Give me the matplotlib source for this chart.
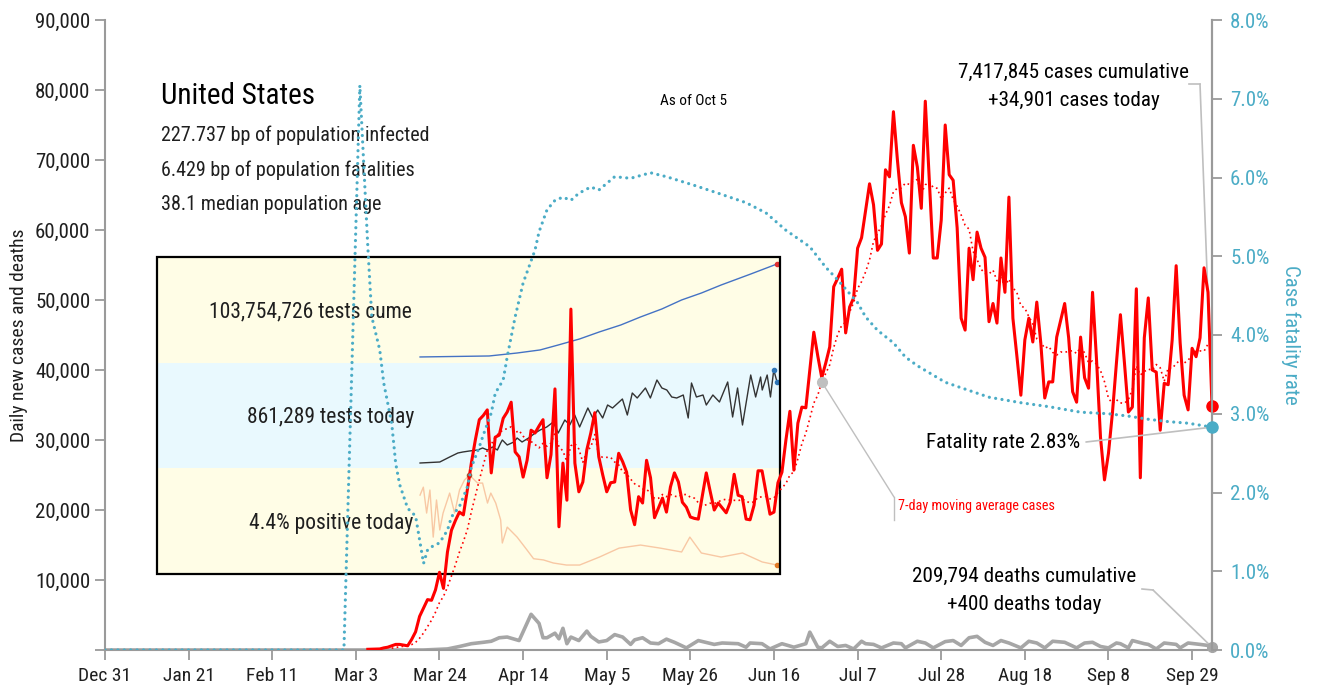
import matplotlib
matplotlib.use("Agg")
import matplotlib.pyplot as plt
import numpy as np
import pandas as pd
from matplotlib.lines import Line2D
from matplotlib.patches import Rectangle
from matplotlib.ticker import FuncFormatter, PercentFormatter

plt.rcParams['font.family'] = ['Roboto Condensed', 'Archivo Narrow', 'PT Sans Narrow',
                               'IBM Plex Sans Condensed', 'DejaVu Sans']

# ---------------- data ----------------
x_ticks_labels = ['Dec 31', 'Jan 21', 'Feb 11', 'Mar 3', 'Mar 24', 'Apr 14', 'May 5',
                  'May 26', 'Jun 16', 'Jul 7', 'Jul 28', 'Aug 18', 'Sep 8', 'Sep 29']
x_tick_days = [0, 21, 42, 63, 84, 105, 126, 147, 168, 189, 210, 231, 252, 273]
last_day = 278

case_first_day = 66
daily_cases = [
    100, 120, 130, 150, 300, 400, 600, 800, 800, 700, 600, 1500, 2600, 4800, 6000,
    7200, 7100, 8600, 11100, 8800, 14000, 17100, 18500, 19700, 19300, 22900, 26700,
    30000, 32900, 33500, 34300, 25300, 30400, 30700, 33100, 34000, 35400, 28300, 27600,
    24700, 27100, 31400, 31000, 32000, 32900, 24600, 27900, 37300, 17600, 26700, 21400,
    48700, 26700, 22600, 24000, 28600, 31000, 33900, 27600, 25000, 22600, 23900, 24000,
    28100, 26900, 25400, 20000, 17900, 21900, 21000, 27100, 24600, 18900, 20300, 21700,
    19700, 23300, 25300, 24000, 21100, 20400, 19000, 18800, 18700, 22000, 25300, 22600,
    20000, 21000, 20300, 19600, 21100, 25100, 22100, 21900, 18700, 18600, 20700, 25600,
    25600, 22500, 19400, 19700, 23900, 25400, 30000, 34100, 25700, 32400, 34700, 34600,
    40000, 45400, 42000, 38900, 41000, 43300, 51900, 53100, 54400, 45300, 49000, 50300,
    57400, 58900, 62700, 66600, 63600, 57100, 58000, 68600, 67600, 76900, 70000, 63900,
    61900, 56700, 72100, 69000, 63100, 78400, 67100, 56000, 56000, 61400, 75000, 67900,
    67100, 60300, 47400, 45700, 57400, 52900, 59700, 57400, 56100, 46900, 49500, 46700,
    56000, 51100, 64700, 47400, 42000, 36400, 44300, 47400, 44000, 49700, 43900, 36000,
    38300, 38300, 44700, 47100, 49500, 44600, 36900, 35400, 44700, 38900, 37400, 51100,
    41500, 30400, 24300, 28100, 33900, 41000, 47900, 41100, 34000, 34700, 51600, 24600,
    44600, 50300, 40000, 39700, 31400, 38100, 37900, 44300, 54900, 43900, 36400, 34300,
    43100, 41900, 44600, 54600, 51100, 34901]
cases_cumulative = 7417845

death_days = [0, 80, 86, 89, 92, 95, 97, 99, 101, 104, 105, 107, 109, 110, 111, 113, 114,
              115, 116, 117, 119, 121, 122, 124, 126, 128, 130, 132, 133, 135, 137, 139,
              141, 143, 146, 149, 153, 155, 159, 161, 162, 165, 167, 170, 173, 176, 177,
              179, 180, 182, 184, 186, 188, 190, 191, 193, 195, 198, 200, 201, 204, 206,
              208, 211, 213, 215, 217, 219, 221, 223, 225, 227, 230, 232, 234, 236, 238,
              241, 244, 246, 248, 250, 252, 254, 255, 257, 258, 261, 262, 264, 266, 269,
              270, 272, 275, 277, 278]
death_values = [0, 0, 150, 500, 900, 1100, 1250, 1750, 1850, 1350, 2600, 5100, 3800, 1750,
                1750, 2400, 1600, 3100, 900, 1850, 1350, 2700, 1950, 1150, 1350, 2200, 1850,
                800, 1450, 1750, 1000, 900, 1550, 1100, 300, 1350, 800, 1000, 900, 400, 1000,
                900, 150, 900, 400, 900, 2550, 400, 300, 1250, 500, 650, 150, 1250, 900, 800,
                300, 1000, 900, 300, 1250, 1000, 300, 1200, 1350, 650, 1750, 1950, 1100, 650,
                1350, 1000, 300, 1250, 1000, 300, 1250, 1100, 300, 1000, 1100, 500, 300, 1000,
                900, 300, 1350, 900, 800, 150, 1000, 800, 300, 1000, 800, 650, 400]
deaths_cumulative = 209794

cfr_days = [0, 60, 64, 66, 67, 69, 70, 72, 73, 74, 76, 78, 80, 81, 82, 84, 86, 87, 89, 91,
            92, 94, 95, 97, 98, 100, 101, 103, 105, 108, 109, 111, 113, 115, 117, 119, 122,
            124, 128, 132, 137, 141, 148, 154, 161, 166, 171, 177, 181, 184, 189, 191, 194,
            198, 201, 204, 208, 211, 215, 222, 230, 237, 245, 252, 257, 262, 267, 272, 278]
cfr_pct = [0, 0, 7.17, 5.12, 4.23, 3.81, 3.39, 2.88, 2.37, 2.10, 1.80, 1.70, 1.10, 1.27, 1.31,
           1.36, 1.52, 1.69, 1.82, 2.07, 2.32, 2.58, 2.73, 3.01, 3.26, 3.43, 3.72, 4.23, 4.66,
           5.08, 5.31, 5.59, 5.71, 5.75, 5.71, 5.80, 5.88, 5.84, 6.01, 5.99, 6.06, 6.01, 5.90,
           5.80, 5.68, 5.55, 5.33, 5.12, 4.86, 4.70, 4.41, 4.23, 4.06, 3.90, 3.72, 3.61, 3.49,
           3.40, 3.33, 3.21, 3.14, 3.09, 3.02, 3.00, 2.97, 2.93, 2.90, 2.88, 2.83]

# inset: tests
cume_days = [61, 103, 120, 134, 145, 158, 170, 183, 195, 208, 220, 232, 244, 262, 278]
cume_millions = [0.5, 1.6, 4.9, 8.3, 13.8, 20.5, 28.3, 36.0, 44.9, 53.8, 63.8, 71.5, 80.4,
                 92.6, 103.754726]

today_days = [61, 73, 79, 84, 87, 91, 96, 99, 102, 105, 108, 110, 111, 114, 118, 120, 123,
              127, 131, 134, 138, 142, 145, 149, 152, 155, 158, 163, 166, 169, 172, 175, 178,
              184, 187, 190, 193, 198, 201, 205, 208, 211, 214, 217, 221, 224, 226, 229, 233,
              235, 239, 243, 248, 251, 254, 257, 262, 265, 268, 269, 272, 274, 276, 278]
today_thousands = [50, 60, 110, 150, 160, 170, 180, 200, 180, 210, 180, 250, 280, 230, 260,
                   300, 260, 300, 350, 380, 410, 460, 350, 480, 430, 530, 410, 600, 500, 580,
                   500, 630, 600, 690, 530, 750, 700, 800, 700, 880, 800, 780, 710, 700, 730,
                   500, 850, 710, 730, 630, 730, 660, 860, 510, 800, 430, 930, 710, 910, 780,
                   930, 710, 980, 861.289]

pos_days = [61, 63, 65, 67, 69, 71, 73, 75, 79, 82, 85, 88, 91, 96, 99, 102, 104, 107, 110,
            111, 114, 120, 126, 130, 136, 142, 150, 158, 170, 182, 195, 207, 220, 225, 232,
            244, 257, 269, 278]
pos_pct = [38.7, 42.6, 29.9, 41.2, 18.1, 36.3, 21.6, 29.9, 39.7, 29.9, 41.2, 46.1, 48.5,
           44.6, 44.6, 34.8, 39.7, 34.8, 26.5, 15.2, 23.0, 18.1, 11.8, 7.5, 6.9, 5.4, 4.4,
           4.4, 8.3, 12.7, 14.2, 12.7, 10.8, 18.1, 10.3, 8.3, 10.3, 5.9, 4.4]

# ---------------- figure ----------------
W, H = 1318, 688
fig = plt.figure(figsize=(W / 100, H / 100), dpi=100)


def fx(px):
    return px / W


def fy(py):
    return 1 - py / H


def rect(x0, y0, x1, y1):
    return [fx(x0), fy(y1), fx(x1) - fx(x0), fy(y0) - fy(y1)]


GREY = '#a6a6a6'
SPINE = '#9a9a9a'
BLUE = '#4bacc6'
TXT = '#1f1f1f'

# inset bands (behind main axes)
inset_l, inset_r = -98.9, 279.8
band_specs = [(257, 363, '#fffde6'), (363, 468, '#e9f9fe'), (468, 574, '#fffde6')]
bands = []
for y0, y1, col in band_specs:
    a = fig.add_axes(rect(157, y0, 780, y1), zorder=1)
    a.set_facecolor(col)
    a.set_xlim(inset_l, inset_r)
    for s in a.spines.values():
        s.set_visible(False)
    a.set_xticks([])
    a.set_yticks([])
    bands.append(a)

a_cume, a_today, a_pos = bands
a_cume.set_ylim(-6.2, 111.5)
a_cume.plot(cume_days, cume_millions, color='#4472c4', lw=1.0)
a_cume.plot(cume_days[-1], cume_millions[-1], 'o', color='#e03030', ms=3, clip_on=False)

a_today.set_ylim(0, 1050)
a_today.plot(today_days, today_thousands, color='#333333', lw=1.0)
imax = int(np.argmax(today_thousands))
a_today.plot(today_days[imax], today_thousands[imax], 'o', color='#2e75b6', ms=3, clip_on=False)
a_today.plot(today_days[-1], today_thousands[-1], 'o', color='#2e75b6', ms=3, clip_on=False)

a_pos.set_ylim(0, 52.0)
a_pos.plot(pos_days, pos_pct, color='#f8c8a4', lw=1.0)
pmax = int(np.argmax(pos_pct))
a_pos.plot(pos_days[pmax], pos_pct[pmax], 'o', color='#9c5a2a', ms=3)
a_pos.plot(pos_days[-1], pos_pct[-1], 'o', color='#e07b28', ms=3, clip_on=False)

# box border
fig.patches.append(Rectangle((fx(157), fy(574)), fx(780) - fx(157), fy(257) - fy(574),
                             transform=fig.transFigure, fill=False, edgecolor='black',
                             lw=1.6, zorder=2))

fig.text(fx(412), fy(312), f"{int(round(cume_millions[-1] * 1e6)):,} tests cume",
         ha='right', va='center', fontsize=15.5, color=TXT)
fig.text(fx(414), fy(417), f"{int(round(today_thousands[-1] * 1000)):,} tests today",
         ha='right', va='center', fontsize=15.5, color=TXT)
fig.text(fx(413), fy(523), f"{pos_pct[-1]:.1f}% positive today",
         ha='right', va='center', fontsize=15.5, color=TXT)

# main axes
ax = fig.add_axes(rect(105, 20, 1212, 650), zorder=3)
ax.patch.set_visible(False)
ax.set_xlim(0, last_day)
ax.set_ylim(0, 90000)

case_days = np.arange(case_first_day, case_first_day + len(daily_cases))
cases = pd.Series(daily_cases, index=case_days, dtype=float)
ma7 = cases.rolling(7).mean()

ax.plot(death_days, death_values, color=GREY, lw=2.6, solid_joinstyle='round', zorder=2)
ax.plot(death_days[-1], death_values[-1], 'o', color=GREY, ms=7, clip_on=False, zorder=5)
ax.plot(ma7.index, ma7.values, color='#ff0000', lw=1.2, ls=(0, (1, 2)), zorder=3)
ax.plot(cases.index, cases.values, color='#ff0000', lw=2.2, solid_joinstyle='round', zorder=4)
ax.plot(cases.index[-1], cases.values[-1], 'o', color='#ff0000', ms=8, clip_on=False, zorder=6)

ax.spines['top'].set_visible(False)
for s in ['left', 'bottom', 'right']:
    ax.spines[s].set_color(SPINE)
    ax.spines[s].set_linewidth(1.5)
ax.set_xticks(x_tick_days)
ax.set_xticklabels(x_ticks_labels)
ax.set_yticks(np.arange(0, 90001, 10000))
ax.yaxis.set_major_formatter(FuncFormatter(lambda v, p: '' if v == 0 else f"{int(v):,}"))
ax.tick_params(axis='both', colors=SPINE, labelcolor=TXT, labelsize=15, length=7, width=1.3)
ax.tick_params(axis='x', labelsize=14, pad=5)
ax.set_ylabel('Daily new cases and deaths', fontsize=14, color=TXT, labelpad=5)

# twin axis: case fatality rate
ax2 = ax.twinx()
ax2.set_zorder(4)
ax2.patch.set_visible(False)
ax2.set_ylim(0, 8)
ax2.set_yticks(np.arange(0, 8.01, 1))
ax2.yaxis.set_major_formatter(PercentFormatter(decimals=1))
for s in ['top', 'left', 'bottom']:
    ax2.spines[s].set_visible(False)
ax2.spines['right'].set_color(SPINE)
ax2.spines['right'].set_linewidth(1.5)
ax2.tick_params(axis='y', colors=SPINE, labelcolor=BLUE, labelsize=15, length=7, width=1.3, pad=6)
ax2.set_ylabel('Case fatality rate', fontsize=15, color=BLUE, rotation=270, labelpad=22)
ax2.plot(cfr_days, cfr_pct, color=BLUE, lw=2.3, ls=(0, (0.01, 2.0)),
         dash_capstyle='round', zorder=3)
ax2.plot(cfr_days[-1], cfr_pct[-1], 'o', color=BLUE, ms=8, clip_on=False, zorder=6)

# ---------------- texts ----------------
fig.text(fx(161), fy(96), 'United States', fontsize=21, color='black', va='center', ha='left')
fig.text(fx(161), fy(135), '227.737 bp of population infected', fontsize=14.5, color=TXT, va='center')
fig.text(fx(161), fy(170), '6.429 bp of population fatalities', fontsize=14.5, color=TXT, va='center')
fig.text(fx(161), fy(205), '38.1 median population age', fontsize=14.5, color=TXT, va='center')
fig.text(fx(694), fy(101), 'As of Oct 5', fontsize=11, color='black', va='center', ha='center')

fig.text(fx(1074), fy(72), f"{cases_cumulative:,} cases cumulative", fontsize=15.2, color='black',
         ha='center', va='center')
fig.text(fx(1074), fy(100), f"+{daily_cases[-1]:,} cases today", fontsize=15.2, color='black',
         ha='center', va='center')
fig.text(fx(1024), fy(576), f"{deaths_cumulative:,} deaths cumulative", fontsize=15.2, color='black',
         ha='center', va='center')
fig.text(fx(1024), fy(604), f"+{death_values[-1]:,} deaths today", fontsize=15.2, color='black',
         ha='center', va='center')
fig.text(fx(1080), fy(443), f"Fatality rate {cfr_pct[-1]:.2f}%", fontsize=15.2, color='black',
         ha='right', va='center')
fig.text(fx(898), fy(506), '7-day moving average cases', fontsize=10.2, color='#ff0000',
         ha='left', va='center')

LEAD = '#bfbfbf'
fig.lines.append(Line2D([fx(1189), fx(1200)], [fy(84), fy(84)], transform=fig.transFigure,
                        color=LEAD, lw=1.2))
ax.annotate('', xy=(case_days[-1], daily_cases[-1]), xycoords='data',
            xytext=(fx(1200), fy(84)), textcoords='figure fraction',
            arrowprops=dict(arrowstyle='-', color=LEAD, lw=1.2, shrinkA=0, shrinkB=0))
ax2.annotate('', xy=(cfr_days[-1], cfr_pct[-1]), xycoords='data',
             xytext=(fx(1086), fy(442)), textcoords='figure fraction',
             arrowprops=dict(arrowstyle='-', color=LEAD, lw=1.2, shrinkA=0, shrinkB=0))
fig.lines.append(Line2D([fx(1142), fx(1153)], [fy(589), fy(590)], transform=fig.transFigure,
                        color=LEAD, lw=1.2))
ax.annotate('', xy=(death_days[-1], death_values[-1]), xycoords='data',
            xytext=(fx(1153), fy(590)), textcoords='figure fraction',
            arrowprops=dict(arrowstyle='-', color=LEAD, lw=1.2, shrinkA=0, shrinkB=0))
ma_day = 180
ax.plot(ma_day, ma7.loc[ma_day], 'o', color='#bfbfbf', ms=7, zorder=6)
ax.annotate('', xy=(ma_day, ma7.loc[ma_day]), xycoords='data',
            xytext=(fx(894), fy(497)), textcoords='figure fraction',
            arrowprops=dict(arrowstyle='-', color=LEAD, lw=1.0, shrinkA=0, shrinkB=0))
fig.lines.append(Line2D([fx(894), fx(894)], [fy(497), fy(520)], transform=fig.transFigure,
                        color=LEAD, lw=1.0))

fig.savefig('out.png', dpi=100)
